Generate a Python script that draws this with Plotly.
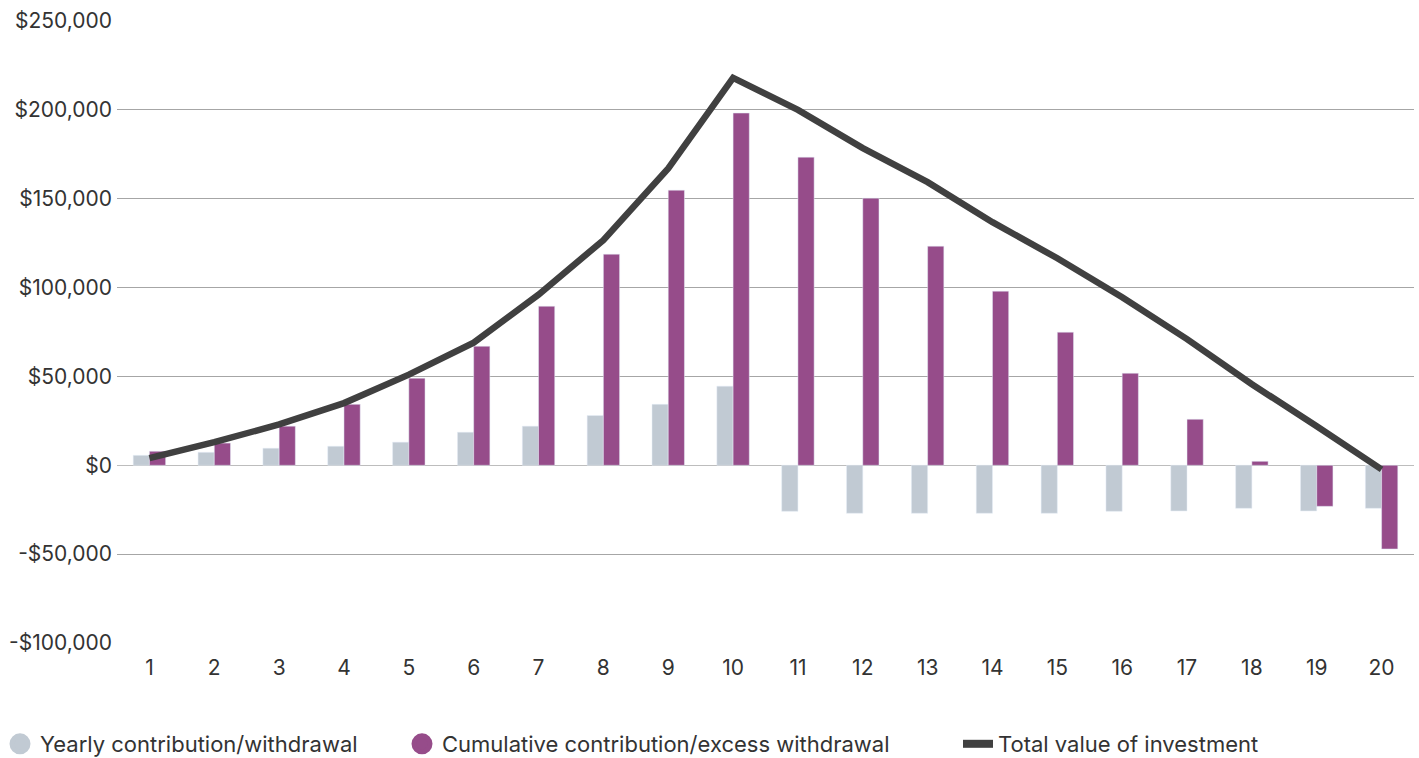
import plotly.graph_objects as go

years = list(range(1, 21))
yearly = [5600, 7300, 9600, 10700, 13000, 18600, 22000, 28000, 34300, 44500,
          -25900, -27000, -27000, -27000, -27000, -25900, -25700, -24200, -25700, -24200]
cumulative = [7900, 12500, 22000, 34300, 49000, 67000, 89500, 118800, 154800, 198200,
              173400, 150300, 123300, 98000, 74900, 51800, 25900, 2250, -23100, -47100]
total = [4000, 13000, 23000, 35000, 51000, 69000, 96000, 126700, 167000, 218000,
         200000, 178500, 159300, 136800, 116500, 94600, 71000, 45600, 22000, -2300]
y_ticks = [-100000, -50000, 0, 50000, 100000, 150000, 200000, 250000]
y_tick_labels = ["-$100,000", "-$50,000", "$0", "$50,000", "$100,000",
                 "$150,000", "$200,000", "$250,000"]
names = ["Yearly contribution/withdrawal",
         "Cumulative contribution/excess withdrawal",
         "Total value of investment"]

GREY = "#c1cad3"
PURPLE = "#964c8a"
DARK = "#404040"
FONT = "Inter"
TEXT = "#333333"

fig = go.Figure()
fig.add_trace(go.Bar(x=years, y=yearly, marker_color=GREY, showlegend=False, name=names[0]))
fig.add_trace(go.Bar(x=years, y=cumulative, marker_color=PURPLE, showlegend=False, name=names[1]))
fig.add_trace(go.Scatter(x=years, y=total, mode="lines", showlegend=False,
                         line=dict(color=DARK, width=6.5), name=names[2]))
# legend entries
fig.add_trace(go.Scatter(x=[None], y=[None], mode="markers", legend="legend",
                         marker=dict(color=GREY, size=16, symbol="circle",
                                     line=dict(color=GREY, width=5)),
                         name=names[0]))
fig.add_trace(go.Scatter(x=[None], y=[None], mode="markers", legend="legend2",
                         marker=dict(color=PURPLE, size=16, symbol="circle",
                                     line=dict(color=PURPLE, width=5)),
                         name=names[1]))
fig.add_trace(go.Scatter(x=[None], y=[None], mode="lines", legend="legend3",
                         line=dict(color=DARK, width=8),
                         name=names[2]))

def leg(xpx):
    return dict(orientation="h", xref="container", yref="container",
                x=xpx / 1419, y=14 / 758, xanchor="left", yanchor="middle",
                font=dict(size=22, color=TEXT, family=FONT), itemwidth=30,
                bgcolor="rgba(0,0,0,0)", borderwidth=0)

fig.update_layout(
    width=1419, height=758,
    margin=dict(l=117, r=5, t=21, b=115),
    plot_bgcolor="white", paper_bgcolor="white",
    barmode="group", bargap=0.5, bargroupgap=0,
    font=dict(family=FONT, size=21, color=TEXT),
    legend=leg(0),
    legend2=leg(402),
    legend3=leg(958),
)
fig.update_xaxes(range=[0.5, 20.5], tickmode="array", tickvals=years,
                 ticktext=[str(y) for y in years], showgrid=False, zeroline=False,
                 showline=False, ticks="outside", ticklen=6, tickcolor="rgba(0,0,0,0)",
                 tickfont=dict(size=21))
fig.update_yaxes(range=[-100000, 250000], tickmode="array", tickvals=y_ticks,
                 ticktext=y_tick_labels, showgrid=True, gridcolor="#a6a6a6", gridwidth=1,
                 zeroline=True, zerolinecolor="#bdbdbd", zerolinewidth=1,
                 showline=False, ticks="", ticklabelstandoff=4, tickfont=dict(size=21))

fig.write_html("out.html", config={"displayModeBar": False},
               post_script="document.body.style.margin='0';")
